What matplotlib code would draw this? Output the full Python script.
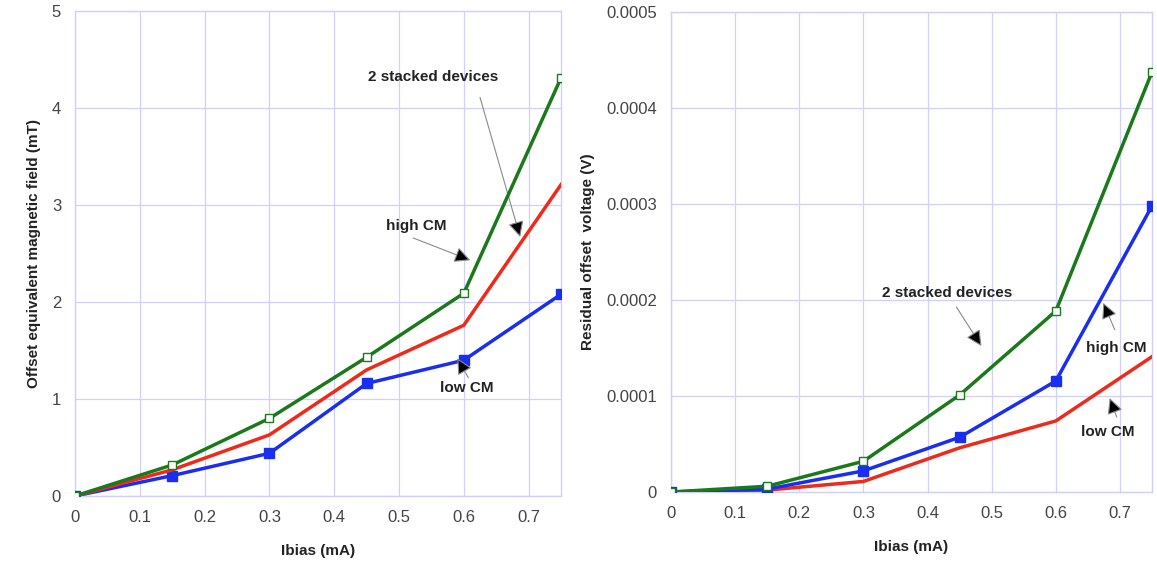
import matplotlib
matplotlib.use("Agg")
import matplotlib.pyplot as plt

plt.rcParams['font.family'] = ['Liberation Sans', 'DejaVu Sans']

# datos
ibias = [0, 0.15, 0.3, 0.45, 0.6, 0.75]

# campo magnetico equivalente (mT)
field_stacked = [0, 0.32, 0.80, 1.43, 2.09, 4.31]
field_high = [0, 0.27, 0.63, 1.30, 1.76, 3.21]
field_low = [0, 0.21, 0.44, 1.16, 1.40, 2.08]

# tension de offset residual (V)
volt_stacked = [0, 0.0000060, 0.0000320, 0.0001010, 0.0001885, 0.0004375]
volt_high = [0, 0.0000030, 0.0000220, 0.0000570, 0.0001156, 0.0002980]
volt_low = [0, 0.0000020, 0.0000110, 0.0000460, 0.0000740, 0.0001410]

xticks = [0, 0.1, 0.2, 0.3, 0.4, 0.5, 0.6, 0.7]
xtick_labels = ['0', '0.1', '0.2', '0.3', '0.4', '0.5', '0.6', '0.7']
yticks_left = [0, 1, 2, 3, 4, 5]
yticks_right = [0, 0.0001, 0.0002, 0.0003, 0.0004, 0.0005]
ylabels_right = ['0', '0.0001', '0.0002', '0.0003', '0.0004', '0.0005']

GREEN = '#1a7a1a'
RED = '#ee2a1a'
BLUE = '#1a2ef0'
GRID = '#d0d0ff'

fig = plt.figure(figsize=(11.57, 5.65), dpi=100)
ax1 = fig.add_axes([75 / 1157, 1 - 496 / 565, (561 - 75) / 1157, (496 - 11) / 565])
ax2 = fig.add_axes([671 / 1157, 1 - 492 / 565, (1152 - 671) / 1157, (492 - 12) / 565])


def style(ax, yticks, ylabels, ylabel, ymax):
    ax.set_xlim(0, 0.75)
    ax.set_ylim(0, ymax)
    ax.set_xticks(xticks)
    ax.set_xticklabels(xtick_labels)
    ax.set_yticks(yticks)
    ax.set_yticklabels(ylabels)
    ax.grid(True, color=GRID, lw=0.9)
    ax.set_axisbelow(True)
    for s in ax.spines.values():
        s.set_color(GRID)
        s.set_linewidth(1.0)
    ax.tick_params(length=0, labelsize=12, colors='#444444', pad=10)
    ax.set_xlabel('Ibias (mA)', fontsize=11, fontweight='bold', color='#222222', labelpad=14)
    ax.set_ylabel(ylabel, fontsize=11, fontweight='bold', color='#222222', labelpad=8)


arrow = dict(arrowstyle='-|>', fc='black', ec='#8a8a8a', lw=0.8, mutation_scale=24,
             shrinkA=0, shrinkB=0)
txt = dict(fontsize=11, fontweight='bold', color='#222222', ha='center', va='center')

# grafico izquierdo
ax1.plot(ibias, field_low, color=BLUE, lw=2.5, marker='s', ms=6.5, mfc=BLUE, mec=BLUE, zorder=3)
ax1.plot(ibias, field_high, color=RED, lw=2.5, zorder=4)
ax1.plot(ibias, field_stacked, color=GREEN, lw=2.5, marker='s', ms=6, mfc='white', mec=GREEN, zorder=5)
style(ax1, yticks_left, [str(v) for v in yticks_left], 'Offset equivalent magnetic field (mT)', 5)

ax1.text(0.5525, 4.32, '2 stacked devices', **txt)
ax1.annotate('', xy=(0.687, 2.67), xytext=(0.625, 4.11), arrowprops=arrow)
ax1.text(0.526, 2.78, 'high CM', **txt)
ax1.annotate('', xy=(0.61, 2.43), xytext=(0.522, 2.66), arrowprops=arrow)
ax1.text(0.605, 1.11, 'low CM', **txt)
ax1.annotate('', xy=(0.59, 1.42), xytext=(0.607, 1.22), arrowprops=arrow)

# grafico derecho
ax2.plot(ibias, volt_low, color=RED, lw=2.5, zorder=3)
ax2.plot(ibias, volt_high, color=BLUE, lw=2.5, marker='s', ms=6.5, mfc=BLUE, mec=BLUE, zorder=4)
ax2.plot(ibias, volt_stacked, color=GREEN, lw=2.5, marker='s', ms=6, mfc='white', mec=GREEN, zorder=5)
style(ax2, yticks_right, ylabels_right, 'Residual offset  voltage (V)', 0.0005)

ax2.text(0.431, 0.0002073, '2 stacked devices', **txt)
ax2.annotate('', xy=(0.484, 0.000152), xytext=(0.445, 0.0001927), arrowprops=arrow)
ax2.text(0.695, 0.000150, 'high CM', **txt)
ax2.annotate('', xy=(0.674, 0.000197), xytext=(0.692, 0.000169), arrowprops=arrow)
ax2.text(0.681, 0.0000625, 'low CM', **txt)
ax2.annotate('', xy=(0.684, 0.0000979), xytext=(0.695, 0.0000781), arrowprops=arrow)

fig.savefig('out.png', dpi=100)
